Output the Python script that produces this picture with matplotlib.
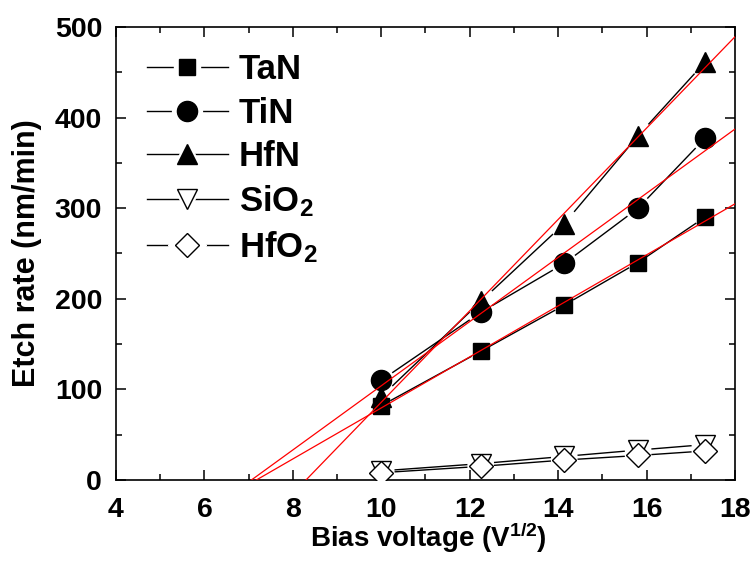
import numpy as np
import matplotlib
matplotlib.use("Agg")
import matplotlib.pyplot as plt
from matplotlib.lines import Line2D
from matplotlib.legend_handler import HandlerTuple
from matplotlib.ticker import MultipleLocator

plt.rcParams["font.family"] = ["Liberation Sans", "DejaVu Sans"]
plt.rcParams["font.weight"] = "bold"
plt.rcParams["mathtext.fontset"] = "custom"
plt.rcParams["mathtext.bf"] = "Liberation Sans:bold"
plt.rcParams["mathtext.rm"] = "Liberation Sans:bold"
plt.rcParams["mathtext.default"] = "bf"

# bias voltage, sqrt(V): 100, 150, 200, 250, 300 V
bias_sqrt = [10.0, 12.25, 14.14, 15.81, 17.32]

tan_rate = [82, 142, 193, 240, 290]
tin_rate = [110, 185, 239, 300, 377]
hfn_rate = [92, 197, 283, 380, 461]
sio2_rate = [10, 18, 26, 33, 39]
hfo2_rate = [8, 15, 22, 27, 32]

series_names = ["TaN", "TiN", "HfN", "SiO$_2$", "HfO$_2$"]
series_rates = [tan_rate, tin_rate, hfn_rate, sio2_rate, hfo2_rate]
fitted = [True, True, True, False, False]

# marker, size, filled, gap of connecting line (px)
styles = [
    ("s", 12, True, 11),
    ("o", 14.5, True, 14),
    ("^", 15, True, 16),
    ("v", 15, False, 14),
    ("D", 12.5, False, 14),
]

fig = plt.figure(figsize=(7.53, 5.62), dpi=100)
ax = fig.add_axes([0.154, 0.146, 0.822, 0.806])
ax.set_xlim(4, 18)
ax.set_ylim(0, 500)


def gapped_line(ax, x, y, gap_px, **kw):
    # Origin-style connecting line that stops short of each marker
    pts = ax.transData.transform(np.column_stack([x, y]))
    inv = ax.transData.inverted()
    for p0, p1 in zip(pts[:-1], pts[1:]):
        d = p1 - p0
        length = np.hypot(*d)
        if length <= 2 * gap_px:
            continue
        u = d / length
        seg = inv.transform([p0 + u * gap_px, p1 - u * gap_px])
        ax.plot(seg[:, 0], seg[:, 1], **kw)


handles = []
for name, rate, (mk, ms, filled, gap) in zip(series_names, series_rates, styles):
    fc = "black" if filled else "white"
    gapped_line(ax, bias_sqrt, rate, gap, color="black", lw=1.0, zorder=2)
    ax.plot(bias_sqrt, rate, ls="none", marker=mk, ms=ms, mfc=fc,
            mec="black", mew=1.0, zorder=3)
    h_line = Line2D([], [], color="black", lw=1.0)
    h_halo = Line2D([], [], ls="none", marker=mk, ms=ms + 7, mfc="white", mec="white")
    h_mark = Line2D([], [], ls="none", marker=mk, ms=ms, mfc=fc, mec="black", mew=1.0)
    handles.append((h_line, h_halo, h_mark))

# linear fits down to zero etch rate (threshold voltage)
for rate, do_fit in zip(series_rates, fitted):
    if not do_fit:
        continue
    k, b = np.polyfit(bias_sqrt, rate, 1)
    x0 = -b / k
    xs = np.array([x0, 18.0])
    ax.plot(xs, k * xs + b, color="red", lw=0.9, zorder=4)

ax.xaxis.set_major_locator(MultipleLocator(2))
ax.xaxis.set_minor_locator(MultipleLocator(1))
ax.yaxis.set_major_locator(MultipleLocator(100))
ax.yaxis.set_minor_locator(MultipleLocator(50))
ax.tick_params(which="both", direction="in", top=True, right=True, width=1.1)
ax.tick_params(which="major", length=7)
ax.tick_params(which="minor", length=4.5)
ax.tick_params(axis="x", labelsize=20.5, pad=12)
ax.tick_params(axis="y", labelsize=20.5, pad=10)
for lab in ax.get_xticklabels() + ax.get_yticklabels():
    lab.set_fontweight("bold")
for sp in ax.spines.values():
    sp.set_linewidth(1.2)

ax.set_xlabel("Bias voltage (V$^{1/2}$)", fontsize=20, fontweight="bold", va="top")
ax.set_ylabel("Etch rate (nm/min)", fontsize=22, fontweight="bold")
ax.xaxis.set_label_coords(0.505, -0.09)
ax.yaxis.set_label_coords(-0.12, 0.5)

ax.legend(handles, series_names, handler_map={tuple: HandlerTuple(ndivide=1, pad=0)},
          loc="upper left", bbox_to_anchor=(0.05, 0.942), borderaxespad=0,
          borderpad=0, frameon=False, fontsize=25, handlelength=2.33,
          handletextpad=0.32, labelspacing=0.3)

fig.savefig("out.png", dpi=100)
